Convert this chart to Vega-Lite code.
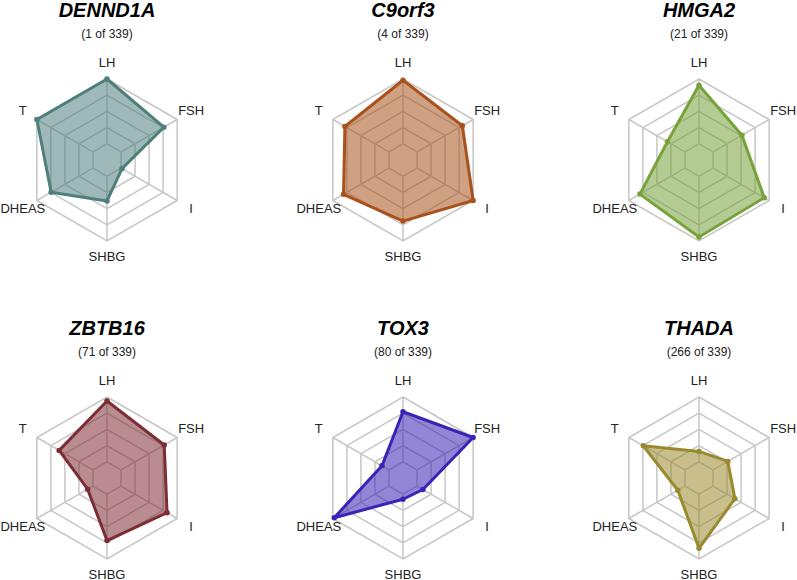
{
  "$schema": "https://vega.github.io/schema/vega-lite/v6.json",
  "padding": 0,
  "bounds": "flush",
  "config": {"view": {"stroke": null}, "font": "Liberation Sans", "header": {"labels": false, "title": null, "labelFontSize": 0, "labelPadding": 0}, "headerFacet": {"labels": false, "title": null, "labelFontSize": 0, "labelPadding": 0}},
  "data": {"values": [
    {"gene": "DENND1A", "rank": 1, "axis": "LH", "value": 5.0},
    {"gene": "DENND1A", "rank": 1, "axis": "FSH", "value": 4.05},
    {"gene": "DENND1A", "rank": 1, "axis": "I", "value": 1.07},
    {"gene": "DENND1A", "rank": 1, "axis": "SHBG", "value": 2.53},
    {"gene": "DENND1A", "rank": 1, "axis": "DHEAS", "value": 3.98},
    {"gene": "DENND1A", "rank": 1, "axis": "T", "value": 5.0},
    {"gene": "C9orf3", "rank": 4, "axis": "LH", "value": 4.92},
    {"gene": "C9orf3", "rank": 4, "axis": "FSH", "value": 4.23},
    {"gene": "C9orf3", "rank": 4, "axis": "I", "value": 5.0},
    {"gene": "C9orf3", "rank": 4, "axis": "SHBG", "value": 3.77},
    {"gene": "C9orf3", "rank": 4, "axis": "DHEAS", "value": 4.24},
    {"gene": "C9orf3", "rank": 4, "axis": "T", "value": 4.14},
    {"gene": "HMGA2", "rank": 21, "axis": "LH", "value": 4.61},
    {"gene": "HMGA2", "rank": 21, "axis": "FSH", "value": 3.06},
    {"gene": "HMGA2", "rank": 21, "axis": "I", "value": 4.65},
    {"gene": "HMGA2", "rank": 21, "axis": "SHBG", "value": 4.75},
    {"gene": "HMGA2", "rank": 21, "axis": "DHEAS", "value": 4.21},
    {"gene": "HMGA2", "rank": 21, "axis": "T", "value": 2.25},
    {"gene": "ZBTB16", "rank": 71, "axis": "LH", "value": 4.75},
    {"gene": "ZBTB16", "rank": 71, "axis": "FSH", "value": 4.08},
    {"gene": "ZBTB16", "rank": 71, "axis": "I", "value": 4.28},
    {"gene": "ZBTB16", "rank": 71, "axis": "SHBG", "value": 3.86},
    {"gene": "ZBTB16", "rank": 71, "axis": "DHEAS", "value": 1.38},
    {"gene": "ZBTB16", "rank": 71, "axis": "T", "value": 3.41},
    {"gene": "TOX3", "rank": 80, "axis": "LH", "value": 4.09},
    {"gene": "TOX3", "rank": 80, "axis": "FSH", "value": 5.0},
    {"gene": "TOX3", "rank": 80, "axis": "I", "value": 1.42},
    {"gene": "TOX3", "rank": 80, "axis": "SHBG", "value": 1.31},
    {"gene": "TOX3", "rank": 80, "axis": "DHEAS", "value": 4.9},
    {"gene": "TOX3", "rank": 80, "axis": "T", "value": 1.5},
    {"gene": "THADA", "rank": 266, "axis": "LH", "value": 1.64},
    {"gene": "THADA", "rank": 266, "axis": "FSH", "value": 2.05},
    {"gene": "THADA", "rank": 266, "axis": "I", "value": 2.56},
    {"gene": "THADA", "rank": 266, "axis": "SHBG", "value": 4.34},
    {"gene": "THADA", "rank": 266, "axis": "DHEAS", "value": 1.51},
    {"gene": "THADA", "rank": 266, "axis": "T", "value": 3.97}
  ]},
  "transform": [
    {"calculate": "indexof(['LH','FSH','I','SHBG','DHEAS','T'], datum.axis)", "as": "k"},
    {"calculate": "PI/2 - datum.k*PI/3", "as": "ang"},
    {"calculate": "datum.value*cos(datum.ang)", "as": "px"},
    {"calculate": "datum.value*sin(datum.ang)", "as": "py"},
    {"calculate": "6*cos(datum.ang)", "as": "lx"},
    {"calculate": "6*sin(datum.ang)", "as": "ly"},
    {"calculate": "'(' + datum.rank + ' of 339)'", "as": "sub"}
  ],
  "facet": {"field": "gene", "type": "nominal", "sort": ["DENND1A", "C9orf3", "HMGA2", "ZBTB16", "TOX3", "THADA"], "title": null, "header": {"title": null, "labels": false, "labelFontSize": 0, "labelPadding": 0, "labelExpr": "''"}},
  "columns": 3,
  "spacing": {"column": 96, "row": 58},
  "spec": {
    "width": 200,
    "height": 260,
    "layer": [
      {
        "transform": [{"filter": "datum.axis == 'LH'"}],
        "mark": {
          "type": "point",
          "shape": "M0,-0.2L0.1732,-0.1L0.1732,0.1L0,0.2L-0.1732,0.1L-0.1732,-0.1Z M0,-0.4L0.3464,-0.2L0.3464,0.2L0,0.4L-0.3464,0.2L-0.3464,-0.2Z M0,-0.6L0.5196,-0.3L0.5196,0.3L0,0.6L-0.5196,0.3L-0.5196,-0.3Z M0,-0.8L0.6928,-0.4L0.6928,0.4L0,0.8L-0.6928,0.4L-0.6928,-0.4Z M0,-1L0.866,-0.5L0.866,0.5L0,1L-0.866,0.5L-0.866,-0.5Z M0,-0.2L0,-1 M0.1732,-0.1L0.866,-0.5 M0.1732,0.1L0.866,0.5 M0,0.2L0,1 M-0.1732,0.1L-0.866,0.5 M-0.1732,-0.1L-0.866,-0.5",
          "size": 26244,
          "filled": false,
          "stroke": "#c6c6c6",
          "strokeWidth": 1.5,
          "opacity": 1
        },
        "encoding": {
          "x": {"datum": 0, "type": "quantitative", "scale": {"domain": [-6.1728, 6.1728], "nice": false, "zero": false}, "axis": null},
          "y": {"datum": 0, "type": "quantitative", "scale": {"domain": [-6.296, 9.753], "nice": false, "zero": false}, "axis": null}
        }
      },
      {
        "mark": {"type": "line", "interpolate": "linear-closed", "strokeWidth": 3, "fillOpacity": 0.55, "strokeJoin": "round"},
        "encoding": {
          "x": {"field": "px", "type": "quantitative", "scale": {"domain": [-6.1728, 6.1728], "nice": false, "zero": false}, "axis": null},
          "y": {"field": "py", "type": "quantitative", "scale": {"domain": [-6.296, 9.753], "nice": false, "zero": false}, "axis": null},
          "order": {"field": "k", "type": "quantitative"},
          "color": {"field": "gene", "type": "nominal", "scale": {"domain": ["DENND1A", "C9orf3", "HMGA2", "ZBTB16", "TOX3", "THADA"], "range": ["#4f7f7c", "#a9521d", "#77a33a", "#7d2e35", "#3b23b5", "#9a8a2e"]}, "legend": null},
          "fill": {"field": "gene", "type": "nominal", "scale": {"domain": ["DENND1A", "C9orf3", "HMGA2", "ZBTB16", "TOX3", "THADA"], "range": ["#4f7f7c", "#a9521d", "#77a33a", "#7d2e35", "#3b23b5", "#9a8a2e"]}, "legend": null}
        }
      },
      {
        "mark": {"type": "circle", "size": 30, "opacity": 1},
        "encoding": {
          "x": {"field": "px", "type": "quantitative", "axis": null},
          "y": {"field": "py", "type": "quantitative", "axis": null},
          "color": {"field": "gene", "type": "nominal", "legend": null}
        }
      },
      {
        "mark": {"type": "text", "fontSize": 13, "fill": "#222222", "align": "center", "baseline": "middle"},
        "encoding": {
          "x": {"field": "lx", "type": "quantitative", "axis": null},
          "y": {"field": "ly", "type": "quantitative", "axis": null},
          "text": {"field": "axis", "type": "nominal"}
        }
      },
      {
        "transform": [{"filter": "datum.axis == 'LH'"}],
        "mark": {"type": "text", "fontSize": 20, "fontWeight": "bold", "fontStyle": "italic", "fill": "#000000", "align": "center", "baseline": "middle"},
        "encoding": {
          "x": {"datum": 0, "type": "quantitative", "axis": null},
          "y": {"datum": 9.2, "type": "quantitative", "axis": null},
          "text": {"field": "gene", "type": "nominal"}
        }
      },
      {
        "transform": [{"filter": "datum.axis == 'LH'"}],
        "mark": {"type": "text", "fontSize": 12, "fill": "#222222", "align": "center", "baseline": "middle"},
        "encoding": {
          "x": {"datum": 0, "type": "quantitative", "axis": null},
          "y": {"datum": 7.78, "type": "quantitative", "axis": null},
          "text": {"field": "sub", "type": "nominal"}
        }
      }
    ]
  }
}
